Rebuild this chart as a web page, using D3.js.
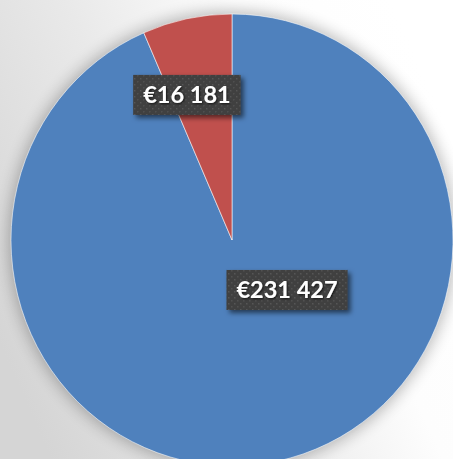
<!DOCTYPE html>
<html>
<head>
<meta charset="utf-8">
<script src="https://cdn.jsdelivr.net/npm/d3@7"></script>
<style>
html, body { margin: 0; padding: 0; overflow: hidden; background: #fff; }
</style>
</head>
<body>
<div id="chart"></div>
<script>
// data
var categories = ["Category 1", "Category 2"];
var values = [231427, 16181];
var colors = ["#4f81bd", "#c0504d"];

var width = 453;
var height = 459;
var cx = 232, cy = 240;
var r = 221;
var stretchY = 226 / 221; // the pie is a little taller than wide

// label anchors, as a fraction of the radius from the centre
var labelPlacement = [[0.249, 0.221], [-0.204, -0.642]];

var euro = d3.formatLocale({ decimal: ",", thousands: " ", grouping: [3], currency: ["€", ""] }).format("$,");

var svg = d3.select("#chart").append("svg")
	.attr("width", width)
	.attr("height", height);

var defs = svg.append("defs");

// background gradient, grey on the left to white on the right
var bg = defs.append("linearGradient")
	.attr("id", "bg")
	.attr("x1", 0).attr("y1", 0.75)
	.attr("x2", 1).attr("y2", 0.3);
bg.append("stop").attr("offset", 0).attr("stop-color", "#d5d5d5");
bg.append("stop").attr("offset", 0.4).attr("stop-color", "#e9e9e9");
bg.append("stop").attr("offset", 0.72).attr("stop-color", "#fdfdfd");
bg.append("stop").attr("offset", 1).attr("stop-color", "#ffffff");

defs.append("filter")
	.attr("id", "pieShadow")
	.attr("x", -0.3).attr("y", -0.3).attr("width", 1.6).attr("height", 1.6)
	.append("feGaussianBlur")
	.attr("stdDeviation", 8);

defs.append("filter")
	.attr("id", "boxShadow")
	.attr("x", -0.2).attr("y", -0.3).attr("width", 1.5).attr("height", 1.7)
	.append("feDropShadow")
	.attr("dx", 3).attr("dy", 3)
	.attr("stdDeviation", 2.5)
	.attr("flood-color", "#000")
	.attr("flood-opacity", 0.55);

defs.append("filter")
	.attr("id", "textShadow")
	.append("feDropShadow")
	.attr("dx", 1).attr("dy", 1)
	.attr("stdDeviation", 0.8)
	.attr("flood-color", "#000")
	.attr("flood-opacity", 0.7);

// dotted fill of the label boxes
var pat = defs.append("pattern")
	.attr("id", "dots")
	.attr("width", 6).attr("height", 6)
	.attr("patternUnits", "userSpaceOnUse");
pat.append("rect").attr("width", 6).attr("height", 6).attr("fill", "#3f3f3f");
pat.append("rect").attr("x", 1).attr("y", 1).attr("width", 1.5).attr("height", 1.5).attr("fill", "#585858");
pat.append("rect").attr("x", 4).attr("y", 4).attr("width", 1.5).attr("height", 1.5).attr("fill", "#525252");

svg.append("rect")
	.attr("width", width)
	.attr("height", height)
	.attr("fill", "url(#bg)");

var pie = d3.pie().sort(null).value((d) => d);
var arcs = pie(values);
var arc = d3.arc().innerRadius(0).outerRadius(r);

var g = svg.append("g")
	.attr("transform", `translate(${cx}, ${cy}) scale(1, ${stretchY})`);

// soft halo round the pie
g.append("circle")
	.attr("r", r + 2)
	.attr("fill", "#000")
	.attr("opacity", 0.28)
	.attr("filter", "url(#pieShadow)");

g.selectAll(".slice")
	.data(arcs)
	.join("path")
	.attr("class", "slice")
	.attr("d", arc)
	.attr("fill", (d, i) => colors[i])
	.attr("stroke", "#ffffff")
	.attr("stroke-opacity", 0.7)
	.attr("stroke-width", 0.8);

// data labels
var labels = svg.selectAll(".label")
	.data(arcs)
	.join("g")
	.attr("class", "label")
	.attr("transform", (d, i) => `translate(${cx + r * labelPlacement[i][0]}, ${cy + r * stretchY * labelPlacement[i][1]})`);

var boxes = labels.append("rect")
	.attr("fill", "url(#dots)")
	.attr("filter", "url(#boxShadow)");

var texts = labels.append("text")
	.attr("text-anchor", "middle")
	.attr("y", 8.5)
	.attr("font-family", "Lato, 'Open Sans', sans-serif")
	.attr("font-weight", "bold")
	.attr("font-size", "23.5px")
	.attr("fill", "#ffffff")
	.attr("filter", "url(#textShadow)")
	.text((d) => euro(d.value));

texts.each(function (d, i) {
	var w = this.getComputedTextLength();
	d3.select(boxes.nodes()[i])
		.attr("x", -w / 2 - 10)
		.attr("y", -20)
		.attr("width", w + 20)
		.attr("height", 40);
});
</script>
</body>
</html>
